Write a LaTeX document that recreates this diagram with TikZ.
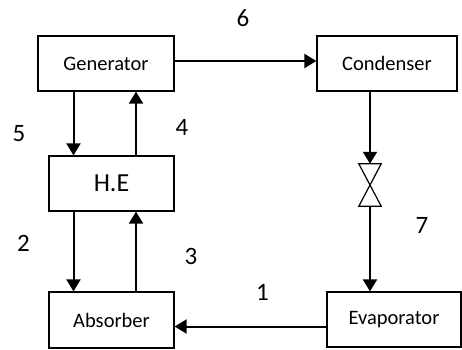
\documentclass[tikz,border=0pt]{standalone}
\usepackage{fontspec}
\setmainfont{Carlito}
\usetikzlibrary{arrows.meta}
\begin{document}
\begin{tikzpicture}[x=1pt,y=-1pt,
  unit/.style={draw, line width=1.2pt, inner sep=0pt, minimum height=55pt,
    font=\fontsize{20.5}{24}\selectfont},
  flow/.style={line width=2pt, -{Triangle[length=12pt,width=14pt]}},
  plain/.style={line width=2pt},
  num/.style={inner sep=0pt, font=\fontsize{25}{30}\selectfont},
  valvebox/.style={inner sep=0pt, minimum width=22pt, minimum height=42pt}]
\useasboundingbox (0,0) rectangle (462,349);

% components
\node[unit, minimum width=136pt] (gen)  at (106,63.5)  {Generator};
\node[unit, minimum width=140pt] (cond) at (387,63.5)  {Condenser};
\node[unit, minimum width=125pt, font=\fontsize{26}{30}\selectfont] (he) at (111.5,183.5) {H.E};
\node[unit, minimum width=125pt, minimum height=56pt] (abs) at (111.5,320) {Absorber};
\node[unit, minimum width=134pt] (evap) at (394,319.5) {Evaporator};

% expansion valve
\node[valvebox] (valve) at (370,185) {};
\draw[line width=1.2pt, fill=white] (valve.north west) -- (valve.north east)
  -- (valve.south west) -- (valve.south east) -- cycle;

% columns and rows of the pipes
\coordinate (colA) at (73.5,0);
\coordinate (colB) at (136,0);
\coordinate (colV) at (370,0);
\coordinate (rowA) at (0,61);
\coordinate (rowB) at (0,326.5);

% pipes
\draw[flow] (gen.east |- rowA) -- (cond.west |- rowA);
\draw[flow] (gen.south -| colA) -- (he.north -| colA);
\draw[flow] (he.north -| colB) -- (gen.south -| colB);
\draw[flow] (he.south -| colA) -- (abs.north -| colA);
\draw[flow] (abs.north -| colB) -- (he.south -| colB);
\draw[flow] (evap.west |- rowB) -- (abs.east |- rowB);
\draw[flow] (cond.south -| colV) -- (valve.north);
\draw[flow] (valve.south) -- (evap.north -| colV);

% state points
\node[num] (p1) at (262.5,292) {1};
\node[num] (p2) at (23.5,243) {2};
\node[num] (p3) at (191,256) {3};
\node[num] (p4) at (182,127) {4};
\node[num] (p5) at (19,134) {5};
\node[num] (p6) at (243,18) {6};
\node[num] (p7) at (422,225) {7};
\end{tikzpicture}
\end{document}
